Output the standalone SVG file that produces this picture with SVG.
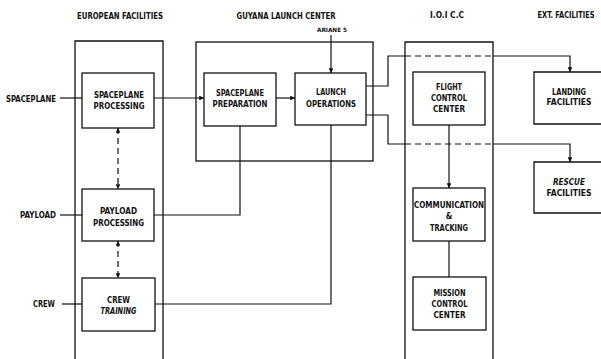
<svg xmlns="http://www.w3.org/2000/svg" width="601" height="359" viewBox="0 0 601 359">
<defs>
<style>
.b{fill:none;stroke:#111;stroke-width:1.3}
.c{fill:none;stroke:#111;stroke-width:1.2}
.d{fill:none;stroke:#111;stroke-width:1.2;stroke-dasharray:6 4}
text{font-family:"DejaVu Sans Condensed","Liberation Sans Narrow","Liberation Sans",sans-serif;font-weight:bold;font-size:8.4px;fill:#111;text-anchor:middle;font-stretch:condensed}
.h{font-size:8.4px}
.s{font-size:5.8px}
.i{font-style:italic}
</style>
<marker id="a" viewBox="0 0 6 6" refX="6" refY="3" markerWidth="4" markerHeight="4" orient="auto-start-reverse"><path d="M0,0L6,3L0,6z" fill="#111"/></marker>
</defs>
<rect width="601" height="359" fill="#fff"/>
<g id="headings">
<text class="h" x="120" y="19" textLength="86" lengthAdjust="spacingAndGlyphs">EUROPEAN FACILITIES</text>
<text class="h" x="286" y="19" textLength="99" lengthAdjust="spacingAndGlyphs">GUYANA LAUNCH CENTER</text>
<text class="h" x="447" y="18" textLength="34" lengthAdjust="spacingAndGlyphs">I.O.I C.C</text>
<text class="h" x="566" y="18" textLength="57" lengthAdjust="spacingAndGlyphs">EXT. FACILITIES</text>
<text class="s" x="332" y="32" textLength="30" lengthAdjust="spacingAndGlyphs">ARIANE 5</text>
</g>
<g id="inputs">
<text x="31" y="101.5" textLength="50" lengthAdjust="spacingAndGlyphs">SPACEPLANE</text>
<text x="38" y="218" textLength="36" lengthAdjust="spacingAndGlyphs">PAYLOAD</text>
<text x="44" y="307" textLength="22" lengthAdjust="spacingAndGlyphs">CREW</text>
</g>
<g id="european-facilities"><path class="b" d="M75,359V41H163V359"/></g>
<g id="guyana-launch-center"><rect class="b" x="196" y="42" width="177" height="119"/></g>
<g id="ioicc"><path class="b" d="M405,359V42H493V359"/></g>
<g id="spaceplane-processing"><rect class="b" x="82" y="73" width="72" height="55"/>
<text x="119" y="97.5" textLength="50" lengthAdjust="spacingAndGlyphs">SPACEPLANE</text>
<text x="119" y="109" textLength="51" lengthAdjust="spacingAndGlyphs">PROCESSING</text></g>
<g id="payload-processing"><rect class="b" x="82" y="189" width="72" height="52"/>
<text x="118.5" y="214" textLength="37" lengthAdjust="spacingAndGlyphs">PAYLOAD</text>
<text x="118.5" y="226" textLength="51" lengthAdjust="spacingAndGlyphs">PROCESSING</text></g>
<g id="crew-training"><rect class="b" x="82" y="278" width="73" height="53"/>
<text x="118.5" y="302.5" textLength="23" lengthAdjust="spacingAndGlyphs">CREW</text>
<text class="i" x="118.5" y="314" textLength="36" lengthAdjust="spacingAndGlyphs">TRAINING</text></g>
<g id="spaceplane-preparation"><rect class="b" x="204" y="73" width="72" height="53"/>
<text x="240" y="96" textLength="48" lengthAdjust="spacingAndGlyphs">SPACEPLANE</text>
<text x="240" y="106.5" textLength="55" lengthAdjust="spacingAndGlyphs">PREPARATION</text></g>
<g id="launch-operations"><rect class="b" x="295" y="73" width="71" height="52"/>
<text x="331" y="95" textLength="30" lengthAdjust="spacingAndGlyphs">LAUNCH</text>
<text x="331" y="106.5" textLength="50" lengthAdjust="spacingAndGlyphs">OPERATIONS</text></g>
<g id="flight-control-center"><rect class="b" x="413" y="72" width="72" height="53"/>
<text x="449" y="90" textLength="26" lengthAdjust="spacingAndGlyphs">FLIGHT</text>
<text x="449" y="101" textLength="36" lengthAdjust="spacingAndGlyphs">CONTROL</text>
<text x="449" y="112" textLength="32" lengthAdjust="spacingAndGlyphs">CENTER</text></g>
<g id="communication-tracking"><rect class="b" x="413" y="188" width="72" height="53"/>
<text x="449" y="207.5" textLength="70" lengthAdjust="spacingAndGlyphs">COMMUNICATION</text>
<text x="449" y="218.5">&amp;</text>
<text x="449" y="230.5" textLength="38" lengthAdjust="spacingAndGlyphs">TRACKING</text></g>
<g id="mission-control-center"><rect class="b" x="413" y="277" width="73" height="53"/>
<text x="449.5" y="296" textLength="32" lengthAdjust="spacingAndGlyphs">MISSION</text>
<text x="449.5" y="307" textLength="36" lengthAdjust="spacingAndGlyphs">CONTROL</text>
<text x="449.5" y="318" textLength="32" lengthAdjust="spacingAndGlyphs">CENTER</text></g>
<g id="landing-facilities"><path class="b" d="M601,72H534V124H601"/>
<text x="569" y="94.5" textLength="34" lengthAdjust="spacingAndGlyphs">LANDING</text>
<text x="569" y="105" textLength="45" lengthAdjust="spacingAndGlyphs">FACILITIES</text></g>
<g id="rescue-facilities"><path class="b" d="M601,162H534V213H601"/>
<text class="i" x="569" y="185" textLength="32" lengthAdjust="spacingAndGlyphs">RESCUE</text>
<text x="569" y="196" textLength="45" lengthAdjust="spacingAndGlyphs">FACILITIES</text></g>
<g id="connectors">
<path class="c" d="M60,98H82"/>
<path class="c" d="M154,98H204" marker-end="url(#a)"/>
<path class="c" d="M276,98H295" marker-end="url(#a)"/>
<path class="c" d="M331,35V73" marker-end="url(#a)"/>
<path class="d" d="M118,128V189" marker-start="url(#a)" marker-end="url(#a)"/>
<path class="d" d="M118,241V278" marker-start="url(#a)" marker-end="url(#a)"/>
<path class="c" d="M60,215H82"/>
<path class="c" d="M154,215H240V126"/>
<path class="c" d="M62,304H82"/>
<path class="c" d="M155,304H331V125"/>
<path class="c" d="M366,86H388V56H405"/>
<path class="d" d="M405,56H493"/>
<path class="c" d="M493,56H570V72" marker-end="url(#a)"/>
<path class="c" d="M366,115H388V144H405"/>
<path class="d" d="M405,144H493"/>
<path class="c" d="M493,144H570V162" marker-end="url(#a)"/>
<path class="c" d="M449,125V188" marker-end="url(#a)"/>
<path class="c" d="M449,241V277"/>
</g>
</svg>
